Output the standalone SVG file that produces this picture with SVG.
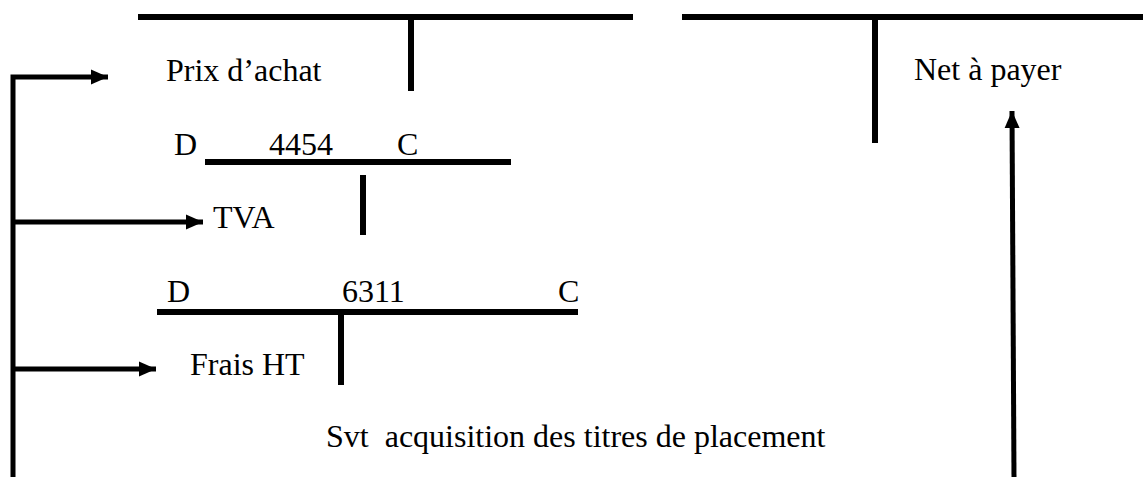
<svg xmlns="http://www.w3.org/2000/svg" width="1143" height="477" viewBox="0 0 1143 477">
  <style>
    .t { font-family: "Liberation Serif", "Times New Roman", serif; font-size: 32px; fill: #000; }
    .ln { stroke: #000; stroke-width: 6; fill: none; }
    .cn { stroke: #000; stroke-width: 5; fill: none; }
  </style>
  <defs>
    <marker id="ah" markerWidth="18" markerHeight="18" refX="17" refY="9" orient="auto" markerUnits="userSpaceOnUse">
      <path d="M0,1.5 L17,9 L0,16.5 Z" fill="#000"/>
    </marker>
  </defs>
  <rect width="1143" height="477" fill="#fff"/>

  <g id="compte-titres">
    <line class="ln" x1="138" y1="17" x2="633" y2="17"/>
    <line class="ln" x1="411" y1="17" x2="411" y2="91"/>
    <text class="t" x="166" y="81">Prix d’achat</text>
  </g>

  <g id="compte-tresorerie">
    <line class="ln" x1="682" y1="17" x2="1143" y2="17"/>
    <line class="ln" x1="875" y1="17" x2="875" y2="143"/>
    <text class="t" x="914" y="80">Net à payer</text>
  </g>

  <g id="compte-4454">
    <text class="t" x="174" y="155">D</text>
    <text class="t" x="269" y="155">4454</text>
    <text class="t" x="397" y="155">C</text>
    <line class="ln" x1="205" y1="162" x2="511" y2="162"/>
    <line class="ln" x1="363" y1="175" x2="363" y2="235"/>
    <text class="t" x="213" y="228">TVA</text>
  </g>

  <g id="compte-6311">
    <text class="t" x="167" y="302">D</text>
    <text class="t" x="342" y="302">6311</text>
    <text class="t" x="558" y="302">C</text>
    <line class="ln" x1="157" y1="312" x2="578" y2="312"/>
    <line class="ln" x1="341" y1="312" x2="341" y2="385"/>
    <text class="t" x="190" y="375">Frais HT</text>
  </g>

  <g id="legende">
    <text class="t" x="326" y="447" xml:space="preserve">Svt  acquisition des titres de placement</text>
  </g>

  <g id="connecteurs">
    <polyline class="cn" points="13,477 13,77 108,77" marker-end="url(#ah)"/>
    <line class="cn" x1="13" y1="222" x2="203" y2="222" marker-end="url(#ah)"/>
    <line class="cn" x1="13" y1="369" x2="156" y2="369" marker-end="url(#ah)"/>
    <line class="cn" x1="1014" y1="477" x2="1012" y2="111" marker-end="url(#ah)"/>
  </g>
</svg>
